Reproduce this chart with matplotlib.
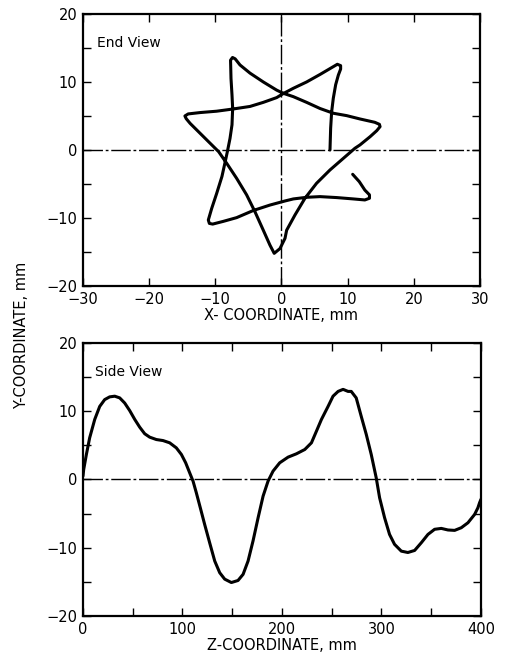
import matplotlib
matplotlib.use("Agg")
import matplotlib.pyplot as plt
from matplotlib.ticker import MultipleLocator

# End view: X, Y coordinates (mm)
end_x = [7.33, 7.43, 7.58, 7.83, 8.19, 8.59, 8.94, 8.94, 8.44, 7.83,
         5.82, 3.8, 1.79, 0.28, -0.73, -2.75, -4.76, -7.28, -9.8, -12.3, -14.1, -14.6, -14.4,
         -13.8, -12.3, -10.8, -9.5, -8.28, -6.78, -5.27, -4.0, -2.75, -1.74, -1.1,
         -0.23, 0.53, 0.78, 2.04, 3.55, 5.3, 7.33, 9.35, 11.1, 11.86, 13.4, 14.4, 14.9, 14.8, 14.1,
         11.86, 9.85, 7.83, 5.82, 3.8, 1.79, 0.28, -0.73, -2.75, -4.76, -6.27, -7.0, -7.4, -7.7,
         -7.68, -7.63, -7.48, -7.38, -7.48, -7.78, -8.18, -8.5, -9.0, -9.8, -10.55, -11.06, -10.9, -10.4,
         -8.8, -6.78, -4.26, -1.74, 0.53, 1.79, 3.8, 5.82, 8.34, 10.86, 12.6, 13.3, 13.3,
         12.6, 11.76, 10.76]
end_y = [0.0, 3.2, 5.6, 7.6, 9.6, 11.0, 11.9, 12.4, 12.6, 12.25,
         11.1, 10.0, 9.07, 8.3, 7.7, 7.0, 6.4, 6.03, 5.7, 5.5, 5.3, 5.0, 4.6,
         3.9, 2.45, 1.0, -0.25, -1.96, -4.17, -6.6, -9.1, -11.8, -14.0, -15.2,
         -14.5, -13.0, -11.8, -9.56, -7.1, -4.9, -2.94, -1.23, 0.25, 0.74, 1.96, 2.84, 3.43, 3.77, 4.07,
         4.56, 5.05, 5.4, 6.1, 7.0, 7.84, 8.33, 8.8, 10.0, 11.3, 12.5, 13.4, 13.6, 13.2,
         12.5, 10.5, 8.1, 6.1, 3.7, 1.7, -0.25, -1.7, -3.9, -6.4, -8.6, -10.3, -10.8, -10.9,
         -10.5, -9.95, -8.9, -8.1, -7.5, -7.2, -6.96, -6.86, -7.0, -7.2, -7.35, -7.1, -6.6,
         -5.9, -4.66, -3.58]

# Side view: Z, Y coordinates (mm)
side_z = [0, 0.7, 3.4, 6.7, 11.8, 16.8, 21.8, 26.8, 31.9, 36.9, 41.9, 46.9, 52, 57, 62, 67,
          73.7, 80.4, 87.1, 93.8, 98.9, 103.2, 107.2, 110.6, 113.9, 117.9, 122.3, 127.3,
          132.4, 137.4, 142.4, 149.1, 155.8, 160.9, 165.9, 170.9, 176, 181, 186, 191,
          197.7, 206.1, 214.5, 222.9, 229.6, 234.6, 239.6, 246.3, 251.3, 256.4, 261.4,
          266.4, 269.6, 274.6, 279.6, 284.7, 289.7, 294.7, 298.1, 303.1, 308.1, 313.1,
          319.9, 326.5, 333.3, 340, 346.7, 353.4, 360.1, 366.8, 373.5, 380.2, 386.9,
          393.6, 396.9, 398.6, 400]
side_y = [0.5, 1.46, 3.66, 6.1, 8.8, 10.7, 11.7, 12.1, 12.2, 11.95, 11.2, 10.1, 8.8, 7.66, 6.7, 6.2,
          5.85, 5.7, 5.37, 4.63, 3.66, 2.44, 0.98, -0.24, -1.95, -4.15, -6.6, -9.27,
          -11.95, -13.66, -14.6, -15.1, -14.8, -13.9, -11.95, -9.0, -5.6, -2.44, -0.24, 1.22,
          2.44, 3.27, 3.76, 4.39, 5.37, 7.07, 8.78, 10.7, 12.2, 12.9, 13.2,
          12.9, 12.9, 11.95, 9.27, 6.6, 3.66, 0.24, -2.68, -5.6, -8.05, -9.5,
          -10.5, -10.7, -10.4, -9.27, -8.05, -7.3, -7.17, -7.4, -7.46, -7.07, -6.34,
          -5.12, -4.15, -3.4, -2.9]

plt.rcParams['font.family'] = ['DejaVu Sans']
fig = plt.figure(figsize=(5.07, 6.71), dpi=100)
ax1 = fig.add_axes([0.1637, 0.5738, 0.783, 0.4054])
ax2 = fig.add_axes([0.1637, 0.082, 0.785, 0.4069])

center_style = dict(color='black', lw=1.0, linestyle=(0, (14, 2, 2, 2)), zorder=1)

ax1.plot(end_x, end_y, color='black', lw=2.2, solid_joinstyle='round',
         solid_capstyle='round', zorder=3)
ax1.axhline(0, **center_style)
ax1.axvline(0, **center_style)
ax1.set_xlim(-30, 30)
ax1.set_ylim(-20, 20)
ax1.xaxis.set_major_locator(MultipleLocator(10))
ax1.yaxis.set_major_locator(MultipleLocator(10))
ax1.yaxis.set_minor_locator(MultipleLocator(5))
ax1.set_xlabel('X- COORDINATE, mm', fontsize=10.5, labelpad=1)
ax1.text(0.035, 0.895, 'End View', transform=ax1.transAxes, fontsize=10,
         va='center', ha='left')

ax2.plot(side_z, side_y, color='black', lw=2.2, solid_joinstyle='round',
         solid_capstyle='round', zorder=3)
ax2.axhline(0, **center_style)
ax2.set_xlim(0, 400)
ax2.set_ylim(-20, 20)
ax2.xaxis.set_major_locator(MultipleLocator(100))
ax2.xaxis.set_minor_locator(MultipleLocator(50))
ax2.yaxis.set_major_locator(MultipleLocator(10))
ax2.yaxis.set_minor_locator(MultipleLocator(5))
ax2.set_xlabel('Z-COORDINATE, mm', fontsize=10.5, labelpad=1)
ax2.text(0.03, 0.895, 'Side View', transform=ax2.transAxes, fontsize=10,
         va='center', ha='left')

for ax in (ax1, ax2):
    for s in ax.spines.values():
        s.set_linewidth(1.6)
    ax.tick_params(which='both', direction='in', top=True, right=True,
                   labelsize=10.5, width=1.0, pad=4)
    ax.tick_params(which='major', length=6)
    ax.tick_params(which='minor', length=6)

fig.text(0.043, 0.5, 'Y-COORDINATE, mm', rotation=90, fontsize=10.5,
         va='center', ha='center')

fig.savefig('out.png', dpi=100)
